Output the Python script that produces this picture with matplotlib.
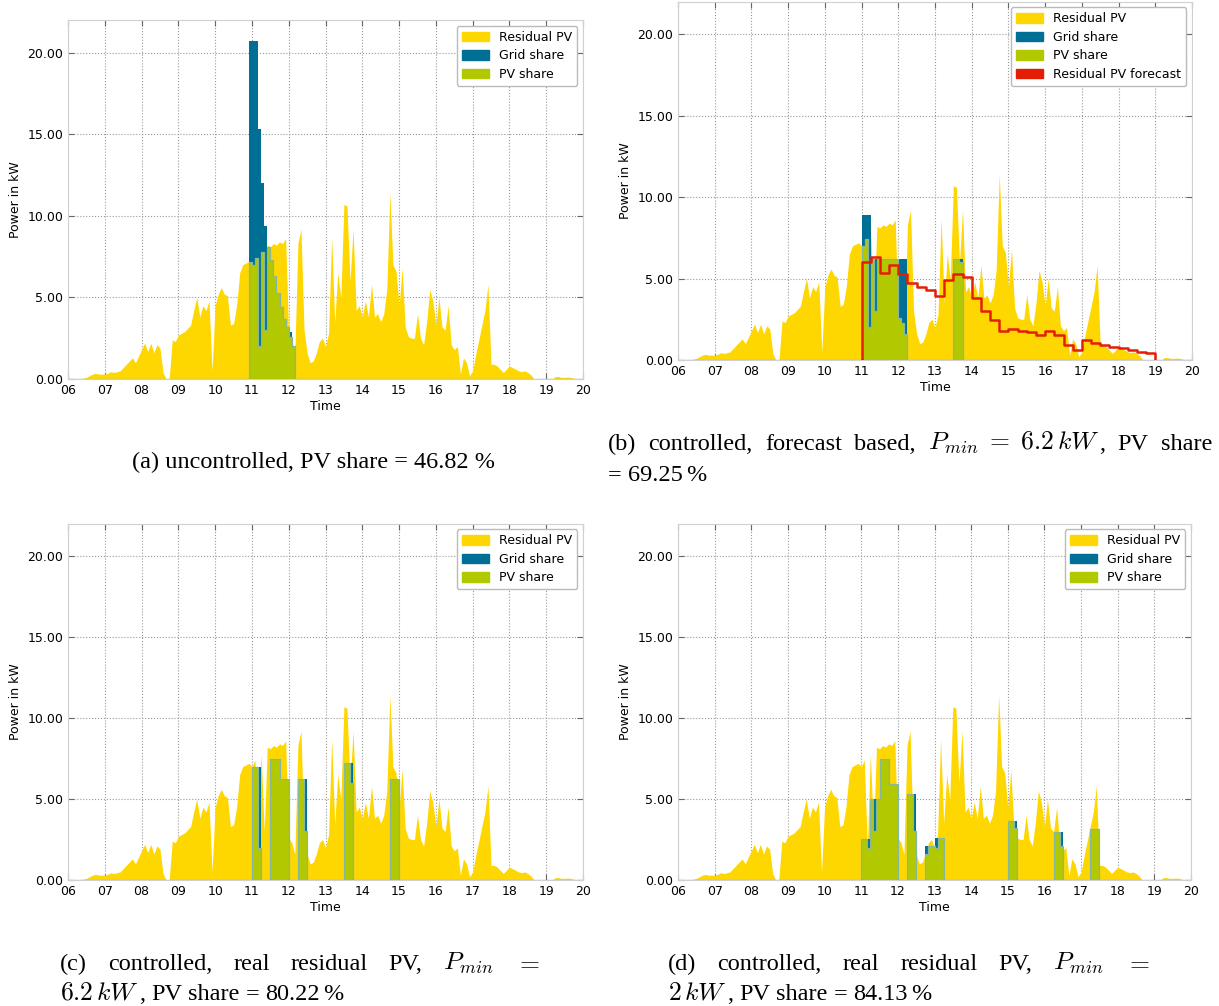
import numpy as np
import matplotlib.pyplot as plt
from matplotlib.patches import Patch
from matplotlib.ticker import FuncFormatter, FormatStrFormatter

plt.rcParams['mathtext.fontset'] = 'cm'

# residual PV in kW, 5 minute samples from 06:00 to 20:00 (one row per hour)
pv_kw = [
    0, 0, 0, 0, 0.02, 0.05, 0.1, 0.2, 0.3, 0.35, 0.3, 0.3,
    0.3, 0.35, 0.45, 0.4, 0.45, 0.5, 0.7, 0.9, 1.1, 1.3, 1.0, 1.4,
    1.8, 2.2, 1.7, 2.2, 1.6, 2.1, 1.9, 0.4, 0, 0, 2.4, 2.3,
    2.7, 2.8, 2.9, 3.1, 3.3, 4.2, 5.0, 3.8, 4.5, 4.2, 4.8, 0.5,
    4.5, 5.2, 5.6, 5.2, 5.1, 3.3, 3.4, 4.5, 6.5, 7.0, 7.1, 7.2,
    7.0, 7.4, 2.0, 7.8, 3.0, 8.2, 8.1, 8.3, 8.2, 8.4, 8.3, 8.6,
    2.6, 2.3, 1.6, 8.3, 9.2, 3.0, 1.6, 1.0, 1.1, 1.6, 2.3, 2.5,
    2.0, 2.8, 8.7, 3.5, 6.5, 5.0, 10.7, 10.6, 6.0, 9.2, 4.2, 4.5,
    3.8, 4.8, 3.8, 5.8, 3.8, 4.0, 3.5, 4.0, 5.5, 11.4, 7.0, 6.6,
    4.5, 6.8, 3.2, 2.6, 2.5, 2.5, 4.0, 2.5, 2.1, 3.5, 5.5, 4.8,
    3.3, 5.0, 3.2, 3.0, 4.5, 2.1, 1.8, 2.0, 0.3, 1.3, 1.0, 0.2,
    0.5, 1.5, 2.4, 3.3, 4.2, 5.8, 0.9, 0.9, 0.8, 0.6, 0.4, 0.6,
    0.8, 0.7, 0.6, 0.5, 0.45, 0.5, 0.4, 0.25, 0, 0, 0, 0,
    0, 0, 0, 0.15, 0.15, 0.1, 0.1, 0.12, 0.1, 0.05, 0, 0,
    0,
]

# charging load per scenario: start, end, kW
load_a_start = ['10:55', '11:10', '11:15', '11:20', '11:25', '11:30', '11:35',
                '11:40', '11:45', '11:50', '11:55', '12:00', '12:05']
load_a_end = ['11:10', '11:15', '11:20', '11:25', '11:30', '11:35', '11:40',
              '11:45', '11:50', '11:55', '12:00', '12:05', '12:10']
load_a_kw = [20.7, 15.3, 12.0, 9.4, 8.1, 7.3, 6.3, 5.3, 4.4, 3.7, 3.2, 2.9, 2.0]

load_b_start = ['11:00', '11:15', '13:30']
load_b_end = ['11:15', '12:15', '13:45']
load_b_kw = [8.9, 6.2, 6.2]

load_c_start = ['11:00', '11:30', '11:45', '12:15', '13:30', '14:45']
load_c_end = ['11:15', '11:45', '12:00', '12:30', '13:45', '15:00']
load_c_kw = [7.0, 7.45, 6.25, 6.25, 7.2, 6.25]

load_d_start = ['11:00', '11:15', '11:30', '11:45', '12:15', '12:45', '13:00',
                '15:00', '16:15', '17:15']
load_d_end = ['11:15', '11:30', '11:45', '12:00', '12:30', '13:00', '13:15',
              '15:15', '16:30', '17:30']
load_d_kw = [2.55, 5.0, 7.45, 5.9, 5.3, 2.1, 2.6, 3.65, 2.95, 3.15]

# residual PV forecast (b), 15 minute steps from 11:00 to 19:00
forecast_kw = [6.0, 6.3, 5.35, 5.85, 5.3, 4.7, 4.5, 4.3, 3.9, 4.9, 5.3, 5.1,
               3.8, 3.0, 2.45, 1.75, 1.9, 1.75, 1.7, 1.55, 1.75, 1.55, 0.9, 0.6,
               1.2, 1.05, 0.95, 0.8, 0.75, 0.6, 0.5, 0.4]

# captions: (piece, is_math, space before it)
cap_a = "(a) uncontrolled, PV share = 46.82 %"
cap_b1 = [("(b)", 0, 0), ("controlled,", 0, 1), ("forecast", 0, 1), ("based,", 0, 1),
          (r"$P_{min}\;=\;6.2\,kW$", 1, 1), (",", 0, 0), ("PV", 0, 1), ("share", 0, 1)]
cap_b2 = [("=", 0, 0), ("69.25", 0, 1), ("%", 0, 0.6)]
cap_c1 = [("(c)", 0, 0), ("controlled,", 0, 1), ("real", 0, 1), ("residual", 0, 1),
          ("PV,", 0, 1), (r"$P_{min}$", 1, 1), (r"$=$", 1, 1)]
cap_c2 = [(r"$6.2\,kW$", 1, 0), (",", 0, 0), ("PV", 0, 1), ("share", 0, 1),
          ("=", 0, 1), ("80.22", 0, 1), ("%", 0, 0.6)]
cap_d1 = [("(d)", 0, 0), ("controlled,", 0, 1), ("real", 0, 1), ("residual", 0, 1),
          ("PV,", 0, 1), (r"$P_{min}$", 1, 1), (r"$=$", 1, 1)]
cap_d2 = [(r"$2\,kW$", 1, 0), (",", 0, 0), ("PV", 0, 1), ("share", 0, 1),
          ("=", 0, 1), ("84.13", 0, 1), ("%", 0, 0.6)]

YELLOW = '#ffd700'
BLUE = '#006f96'
GREEN = '#b2c800'
RED = '#e41e05'

pv = np.array(pv_kw, dtype=float)
t = 6 + np.arange(len(pv)) / 12.0


def hm(s):
    h, m = s.split(':')
    return int(h) + int(m) / 60.0


def panel(ax, start, end, kw, forecast=None):
    load = np.zeros_like(t)
    for s, e, k in zip(start, end, kw):
        load[(t >= hm(s) - 1e-6) & (t < hm(e) - 1e-6)] = k
    share = np.minimum(load, pv)

    ax.fill_between(t, 0, pv, color=YELLOW, lw=0, zorder=2)
    ax.fill_between(t, 0, load, step='post', color=BLUE, lw=0, zorder=3)
    ax.fill_between(t, 0, share, step='post', color=GREEN, lw=0, zorder=4)
    ax.plot(t, share, drawstyle='steps-post', color='#86b8a0', lw=0.9, zorder=5)

    handles = [Patch(color=YELLOW), Patch(color=BLUE), Patch(color=GREEN)]
    labels = ['Residual PV', 'Grid share', 'PV share']
    if forecast is not None:
        ft = 11 + 0.25 * np.arange(len(forecast))
        xs = np.concatenate([[ft[0]], ft, [ft[-1] + 0.25]])
        ys = np.concatenate([[0], forecast, [0]])
        ax.plot(xs, ys, drawstyle='steps-post', color=RED, lw=1.8, zorder=6)
        handles.append(Patch(color=RED))
        labels.append('Residual PV forecast')

    ax.set_xlim(6, 20)
    ax.set_ylim(0, 22)
    ax.set_xticks(range(6, 21))
    ax.xaxis.set_major_formatter(FuncFormatter(lambda v, p: '%02d' % v))
    ax.set_yticks([0, 5, 10, 15, 20])
    ax.yaxis.set_major_formatter(FormatStrFormatter('%.2f'))
    ax.grid(True, ls=':', color='#9a9a9a', lw=0.8, zorder=1)
    ax.set_axisbelow(True)
    ax.tick_params(direction='in', top=True, right=True, labelsize=9,
                   color='#666666', length=4)
    for sp in ax.spines.values():
        sp.set_color('#d0d0d0')
    ax.set_xlabel('Time', fontsize=9, labelpad=2)
    ax.set_ylabel('Power in kW', fontsize=9)
    leg = ax.legend(handles, labels, loc='upper right', fontsize=9,
                    fancybox=True, framealpha=1, edgecolor='#bbbbbb',
                    borderaxespad=0.45, handlelength=2.2, handleheight=0.8,
                    labelspacing=0.45)
    leg.set_zorder(10)


W, H = 1219, 1006
fig = plt.figure(figsize=(W / 100, H / 100), dpi=100)


def box(x0, y0, x1, y1):
    return [x0 / W, 1 - y1 / H, (x1 - x0) / W, (y1 - y0) / H]


ax_a = fig.add_axes(box(68, 20, 583, 379))
ax_b = fig.add_axes(box(678, 1.5, 1192, 360))
ax_c = fig.add_axes(box(68, 523.5, 583, 880))
ax_d = fig.add_axes(box(678, 523.5, 1191, 880))

panel(ax_a, load_a_start, load_a_end, load_a_kw)
panel(ax_b, load_b_start, load_b_end, load_b_kw, forecast=forecast_kw)
panel(ax_c, load_c_start, load_c_end, load_c_kw)
panel(ax_d, load_d_start, load_d_end, load_d_kw)

TXT, MATH, SPACE = 17.5, 18.5, 6.0
renderer = fig.canvas.get_renderer()


def caption_line(x0, y, pieces, x_end=None):
    items = []
    for s, is_math, gap in pieces:
        txt = fig.text(0, 1 - y / H, s, fontsize=MATH if is_math else TXT,
                       family='Liberation Serif', va='baseline')
        items.append((txt, txt.get_window_extent(renderer).width, gap * SPACE))
    if x_end is not None:
        free = x_end - x0 - sum(w + g for _, w, g in items)
        n = sum(1 for _, _, g in items if g > 0)
        items = [(o, w, g + free / n if g > 0 else g) for o, w, g in items]
    x = x0
    for txt, w, g in items:
        x += g
        txt.set_x(x / W)
        x += w


fig.text(313 / W, 1 - 468 / H, cap_a, ha='center', va='baseline',
         fontsize=TXT, family='Liberation Serif')
caption_line(608, 450, cap_b1, x_end=1212)
caption_line(608, 481, cap_b2)
caption_line(60, 970, cap_c1, x_end=540)
caption_line(60, 1000, cap_c2)
caption_line(668, 970, cap_d1, x_end=1150)
caption_line(668, 1000, cap_d2)

fig.savefig('out.png', dpi=100)
